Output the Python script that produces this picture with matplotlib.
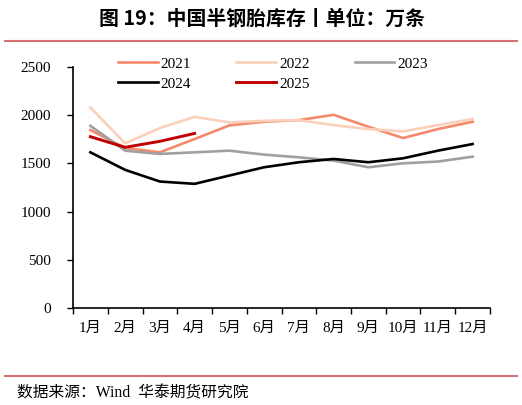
import matplotlib
matplotlib.use("Agg")
import matplotlib.pyplot as plt
from matplotlib.lines import Line2D

months = ["1月", "2月", "3月", "4月", "5月", "6月", "7月", "8月", "9月", "10月", "11月", "12月"]
y2021 = [1846, 1660, 1615, 1753, 1894, 1932, 1949, 2004, 1880, 1763, 1856, 1932]
y2022 = [2080, 1708, 1867, 1983, 1925, 1942, 1949, 1897, 1856, 1832, 1897, 1960]
y2023 = [1890, 1632, 1598, 1615, 1632, 1591, 1563, 1529, 1460, 1501, 1519, 1570]
y2024 = [1615, 1433, 1312, 1288, 1374, 1460, 1512, 1546, 1512, 1553, 1632, 1701]
y2025 = [1777, 1667, 1729, 1811]

serif = ["Liberation Serif", "Noto Sans CJK SC"]
plt.rcParams["font.family"] = serif

fig = plt.figure(figsize=(5.22, 4.05), dpi=100)
ax = fig.add_axes([73/522, 1-308/405, (490-73)/522, (308-67)/405])

x = list(range(12))
l21, = ax.plot(x, y2021, color="#F4896B", lw=1.9, label="2021")
l22, = ax.plot(x, y2022, color="#FBD0BA", lw=1.9, label="2022")
l23, = ax.plot(x, y2023, color="#A0A0A0", lw=1.9, label="2023")
l24, = ax.plot(x, y2024, color="black", lw=1.9, label="2024")
l25, = ax.plot(x[:len(y2025)], y2025, color="#C00000", lw=2.1, label="2025")

ax.set_xlim(-0.5, 11.5)
ax.set_ylim(0, 2500)
ax.set_yticks(range(0, 2501, 500))
ax.set_xticks([i - 0.5 for i in range(13)])
ax.set_xticklabels([])
ax.set_xticks(x, minor=True)
ax.set_xticklabels(months, minor=True)
ax.tick_params(axis="x", which="minor", length=0, pad=10, labelsize=11)
ax.tick_params(axis="x", which="major", length=4, width=1, direction="out")
ax.tick_params(axis="y", length=4, width=1, direction="out", labelsize=11, pad=12)
ax.spines["top"].set_visible(False)
ax.spines["right"].set_visible(False)
ax.spines["left"].set_linewidth(1.2)
ax.spines["bottom"].set_linewidth(1.2)

# row-major order: 2021 2022 2023 / 2024 2025
handles = [l21, l24, l22, l25, l23]
fig.legend(handles, [h.get_label() for h in handles],
           loc="upper left", bbox_to_anchor=(118/522, 1-57/405), ncol=3, frameon=False,
           borderpad=0, borderaxespad=0, handlelength=2.6, handletextpad=0.2,
           columnspacing=2.95, labelspacing=0.42, fontsize=11)

fig.text(0.502, 1-18/405, "图 19：中国半钢胎库存丨单位：万条", ha="center", va="center",
         fontsize=14.3, fontweight="bold", family=["Noto Sans CJK SC", "DejaVu Sans"])
fig.add_artist(Line2D([5/522, 517/522], [1-41/405, 1-41/405], color="#D47272", lw=1.5))
fig.add_artist(Line2D([5/522, 517/522], [1-376/405, 1-376/405], color="#D47272", lw=1.5))
fig.text(17/522, 1-393/405, "数据来源：Wind  华泰期货研究院", ha="left", va="center", fontsize=11.3)

fig.savefig("out.png", dpi=100)
